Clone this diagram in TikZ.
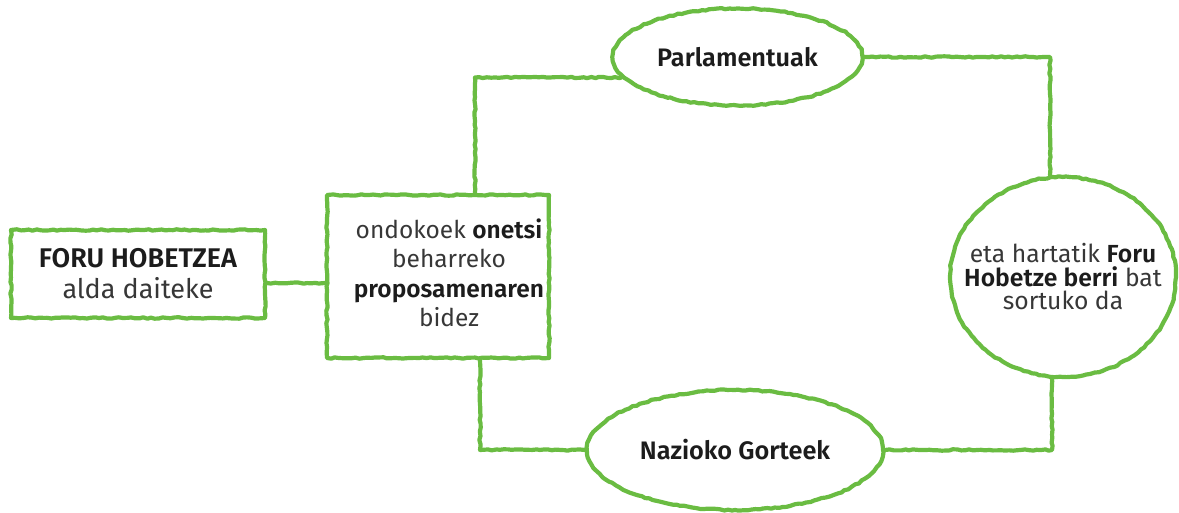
\documentclass[tikz,border=0pt]{standalone}
\usepackage{fontspec}
\setmainfont{Fira Sans}[BoldFont={Fira Sans SemiBold}]
\usetikzlibrary{shapes.geometric,decorations.pathmorphing,calc}
\definecolor{chalk}{RGB}{106,188,66}
\definecolor{txtgray}{RGB}{55,55,55}
\definecolor{txtdark}{RGB}{28,28,28}
\newcommand{\bw}[1]{\textcolor{txtdark}{\bfseries #1}}
\tikzset{
  sketch/.style={draw=chalk, line width=4.2pt, line join=round, line cap=round,
    decorate, decoration={random steps, segment length=4pt, amplitude=0.7pt}},
  boxnode/.style={sketch, rectangle, inner sep=0pt},
  ovalnode/.style={sketch, ellipse, inner sep=0pt},
  link/.style={sketch},
  txt/.style={text=txtgray, align=center, inner sep=0pt},
}
\begin{document}
\begin{tikzpicture}[x=1pt,y=-1pt]
\pgfmathsetseed{7}
\useasboundingbox (0,0) rectangle (1179,513);
% nodes
\node[boxnode, txt, minimum width=254pt, minimum height=88pt,
      font=\fontsize{27}{31}\selectfont] (foru) at (138,274)
      {\bw{FORU HOBETZEA}\\alda daiteke};
\node[boxnode, minimum width=222pt, minimum height=163pt] (m) at (438,276.5) {};
\node[txt, font=\fontsize{24.5}{29.5}\selectfont] (mt) at (449,273)
      {ondokoek \bw{onetsi}\\beharreko\\\bw{proposamenaren}\\bidez};
\node[ovalnode, txt, minimum width=250pt, minimum height=97pt,
      font=\fontsize{25.3}{28}\selectfont] (parl) at (737.5,57) {\bw{Parlamentuak}};
\node[ovalnode, txt, inner xsep=-20pt, minimum width=226pt, minimum height=200pt,
      font=\fontsize{24.7}{23.5}\selectfont] (c) at (1063,277)
      {eta hartatik \bw{Foru}\\\bw{Hobetze berri} bat\\sortuko da};
\node[ovalnode, txt, minimum width=296pt, minimum height=120pt,
      font=\fontsize{25.3}{28}\selectfont] (naz) at (735,450) {\bw{Nazioko Gorteek}};
% connectors
\draw[link] ([yshift=-9pt]foru.east) -- ([yshift=-9pt]foru.east -| m.west);
\draw[link] ([xshift=37pt]m.north) |- (parl.190);
\draw[link] (parl.east) -| ([xshift=-13pt]c.north);
\draw[link] ([xshift=42pt]m.south) |- (naz.west);
\draw[link] (naz.east) -| ([xshift=-11pt]c.south);
\end{tikzpicture}
\end{document}
